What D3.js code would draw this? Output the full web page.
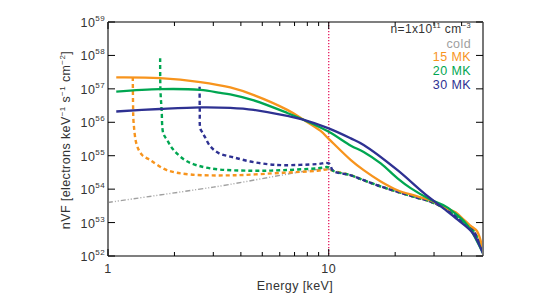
<!DOCTYPE html>
<html>
<head>
<meta charset="utf-8">
<script src="https://cdn.jsdelivr.net/npm/d3@7"></script>
<style>
  body { margin: 0; background: #fff; }
  text { font-family: "Liberation Sans", "DejaVu Sans", sans-serif; letter-spacing: 0.4px; }
</style>
</head>
<body>
<div id="viz"></div>
<script>
// values (energy in keV, nVF in electrons keV^-1 s^-1 cm^-2)
var coldE    = [1, 3, 10, 10.5, 12.6, 14.4, 17.2, 20.5, 25, 29, 34, 40, 45, 50];
var coldF    = [4.0e53, 1.15e54, 4.0e54, 3.5e54, 2.6e54, 1.85e54, 1.2e54, 8.3e53, 5.6e53, 4.2e53, 2.5e53, 1.1e53, 6.0e52, 1.3e52];

var solid15E = [1.09, 1.72, 2.62, 3.58, 4.58, 6.49, 7.59, 9.19, 10, 12.6, 14.4, 17.2, 20.5, 25, 29, 34, 37.7, 41, 44, 47, 50];
var solid15F = [2.2e57, 2.1e57, 1.6e57, 1.1e57, 6.5e56, 2.35e56, 1.26e56, 5.5e55, 3.2e55, 7.4e54, 3.7e54, 1.7e54, 9.3e53, 6.2e53, 4.6e53, 2.7e53, 2.0e53, 1.2e53, 8.0e52, 5.5e52, 1.5e52];
var solid20E = [1.09, 1.72, 2.62, 3.23, 3.58, 4.58, 6.49, 7.59, 10, 12.6, 14.4, 17.2, 20.5, 23.5, 29, 34, 38.5, 41, 44, 50];
var solid20F = [8.3e56, 9.8e56, 9.3e56, 7.6e56, 6.8e56, 4.5e56, 1.9e56, 1.23e56, 5.2e55, 2.0e55, 1.3e55, 5.9e54, 2.1e54, 1.07e54, 4.8e53, 3.0e53, 1.6e53, 1.1e53, 6.0e52, 1.2e52];
var solid30E = [1.09, 1.72, 2.62, 3.58, 4.58, 6.49, 7.59, 10, 12.6, 14.4, 20.5, 27, 33, 38.5, 45, 50];
var solid30F = [2.1e56, 2.5e56, 2.8e56, 2.7e56, 2.35e56, 1.55e56, 1.23e56, 6.6e55, 3.3e55, 2.1e55, 3.7e54, 7.6e53, 2.7e53, 1.2e53, 4.8e52, 1.2e52];

var dash15E = [1.295, 1.299, 1.306, 1.35, 1.427, 1.552, 1.848, 2.358, 3.7, 6.23, 8.88, 10];
var dash15F = [2.25e57, 3.1e56, 1.0e56, 2.1e55, 1.05e55, 7.4e54, 3.7e54, 2.75e54, 2.6e54, 3.1e54, 3.55e54, 3.9e54];
var dash20E = [1.723, 1.728, 1.75, 1.78, 1.85, 1.98, 2.28, 2.9, 4.42, 6.23, 8.88, 10];
var dash20F = [8.3e57, 9.3e56, 2.3e56, 4.7e55, 3.0e55, 1.5e55, 6.8e54, 4.2e54, 3.55e54, 3.7e54, 4.2e54, 4.5e54];
var dash30E = [2.6, 2.605, 2.62, 2.68, 2.75, 2.9, 3.17, 3.71, 4.42, 5.27, 6.25, 8.88, 10];
var dash30F = [1.15e57, 2.3e56, 6.5e55, 4.9e55, 3.6e55, 1.95e55, 1.2e55, 8.9e54, 6.7e54, 5.6e54, 5.2e54, 5.6e54, 5.9e54];

var yTicks = [52, 53, 54, 55, 56, 57, 58, 59];
var xMajor = [1, 10];
var xMinor = [2, 3, 4, 5, 6, 7, 8, 9, 20, 30, 40];
var legendLabels = ["cold", "15 MK", "20 MK", "30 MK"];
var legendColors = ["#a0a0a0", "#f7941d", "#00a651", "#2e3192"];

var width = 540,
    height = 302;
var margin = {left: 108, right: 57, top: 22, bottom: 46};

var svg = d3.select("div#viz").append("svg")
    .attr("width", width)
    .attr("height", height);

var x = d3.scaleLog().domain([1, 50]).range([margin.left, width - margin.right]);
var y = d3.scaleLog().domain([1e52, 1e59]).range([height - margin.bottom, margin.top]);

var line = d3.line()
    .curve(d3.curveCatmullRom.alpha(0.5))
    .x(function(d) { return x(d[0]); })
    .y(function(d) { return y(d[1]); });

function pairs(e, f) {
    return e.map(function(v, i) { return [v, f[i]]; });
}

// dashed curves continue along the cold tail above 10 keV
var tailE = coldE.slice(3), tailF = coldF.slice(3);

var series = [
    {pts: pairs(coldE, coldF), color: legendColors[0], w: 1.4, dash: "5,2,1,2,1,2"},
    {pts: pairs(dash15E.concat(tailE), dash15F.concat(tailF)), color: legendColors[1], w: 2.4, dash: "4,3"},
    {pts: pairs(dash20E.concat(tailE), dash20F.concat(tailF)), color: legendColors[2], w: 2.4, dash: "4,3"},
    {pts: pairs(dash30E.concat(tailE), dash30F.concat(tailF)), color: legendColors[3], w: 2.4, dash: "4,3"},
    {pts: pairs(solid15E, solid15F), color: legendColors[1], w: 2.3, dash: null},
    {pts: pairs(solid20E, solid20F), color: legendColors[2], w: 2.3, dash: null},
    {pts: pairs(solid30E, solid30F), color: legendColors[3], w: 2.3, dash: null}
];

var plot = svg.append("g");

// vertical marker at 10 keV
plot.append("line")
    .attr("x1", x(10)).attr("x2", x(10))
    .attr("y1", y(1e59)).attr("y2", y(1e52))
    .attr("stroke", "#e6195e")
    .attr("stroke-width", 1.3)
    .attr("stroke-dasharray", "1.3,1.7");

plot.selectAll("path.curve")
    .data(series)
    .enter().append("path")
    .attr("class", "curve")
    .attr("d", function(d) { return line(d.pts); })
    .attr("fill", "none")
    .attr("stroke", function(d) { return d.color; })
    .attr("stroke-width", function(d) { return d.w; })
    .attr("stroke-dasharray", function(d) { return d.dash; });

// frame
var x0 = x(1), x1 = x(50), y0 = y(1e52), y1 = y(1e59);
svg.append("line").attr("x1", x0).attr("x2", x1).attr("y1", y0).attr("y2", y0).attr("stroke", "#000").attr("stroke-width", 1.2);
svg.append("line").attr("x1", x0).attr("x2", x1).attr("y1", y1).attr("y2", y1).attr("stroke", "#000").attr("stroke-width", 1.2);
svg.append("line").attr("x1", x0).attr("x2", x0).attr("y1", y0).attr("y2", y1).attr("stroke", "#777").attr("stroke-width", 2);
svg.append("line").attr("x1", x1).attr("x2", x1).attr("y1", y0).attr("y2", y1).attr("stroke", "#777").attr("stroke-width", 2);

// x ticks
var xt = svg.append("g");
xMajor.concat(xMinor).forEach(function(v) {
    var len = xMajor.indexOf(v) >= 0 ? 7 : 4;
    xt.append("line").attr("x1", x(v)).attr("x2", x(v)).attr("y1", y0).attr("y2", y0 - len).attr("stroke", "#000");
    xt.append("line").attr("x1", x(v)).attr("x2", x(v)).attr("y1", y1).attr("y2", y1 + len).attr("stroke", "#000");
});
xt.selectAll("text")
    .data(xMajor)
    .enter().append("text")
    .attr("x", function(d) { return x(d); })
    .attr("y", y0 + 17)
    .attr("text-anchor", "middle")
    .attr("font-size", 12.5)
    .attr("fill", "#333")
    .text(function(d) { return d; });

// y ticks
var yt = svg.append("g");
yTicks.forEach(function(p) {
    var yy = y(Math.pow(10, p));
    yt.append("line").attr("x1", x0).attr("x2", x0 + 7).attr("y1", yy).attr("y2", yy).attr("stroke", "#000");
    yt.append("line").attr("x1", x1).attr("x2", x1 - 7).attr("y1", yy).attr("y2", yy).attr("stroke", "#000");
    var t = yt.append("text")
        .attr("x", x0 - 3)
        .attr("y", yy + 5)
        .attr("text-anchor", "end")
        .attr("font-size", 12.5)
        .attr("fill", "#333");
    t.append("tspan").text("10");
    t.append("tspan").attr("dy", -6).attr("font-size", 8).text(p);
});

// axis titles
svg.append("text")
    .attr("x", 295)
    .attr("y", 290)
    .attr("text-anchor", "middle")
    .attr("font-size", 12.5)
    .attr("fill", "#333")
    .text("Energy [keV]");

var yl = svg.append("text")
    .attr("transform", "translate(70,140) rotate(-90)")
    .attr("text-anchor", "middle")
    .attr("font-size", 12.5)
    .attr("fill", "#333");
yl.append("tspan").text("nVF [electrons keV");
yl.append("tspan").attr("dy", -5).attr("font-size", 8).text("−1");
yl.append("tspan").attr("dy", 5).text(" s");
yl.append("tspan").attr("dy", -5).attr("font-size", 8).text("−1");
yl.append("tspan").attr("dy", 5).text(" cm");
yl.append("tspan").attr("dy", -5).attr("font-size", 8).text("−2");
yl.append("tspan").attr("dy", 5).text("]");

// legend
var lx = x1 - 12;
var head = svg.append("text")
    .attr("x", lx).attr("y", 33)
    .attr("text-anchor", "end")
    .attr("font-size", 12)
    .attr("fill", "#333");
head.append("tspan").text("n=1x10");
head.append("tspan").attr("dy", -5).attr("font-size", 7.5).text("11");
head.append("tspan").attr("dy", 5).text(" cm");
head.append("tspan").attr("dy", -5).attr("font-size", 7.5).text("−3");

svg.selectAll("text.leg")
    .data(legendLabels)
    .enter().append("text")
    .attr("class", "leg")
    .attr("x", lx)
    .attr("y", function(d, i) { return 47.5 + i * 13.7; })
    .attr("text-anchor", "end")
    .attr("font-size", 12.5)
    .attr("fill", function(d, i) { return legendColors[i]; })
    .text(function(d) { return d; });
</script>
</body>
</html>
